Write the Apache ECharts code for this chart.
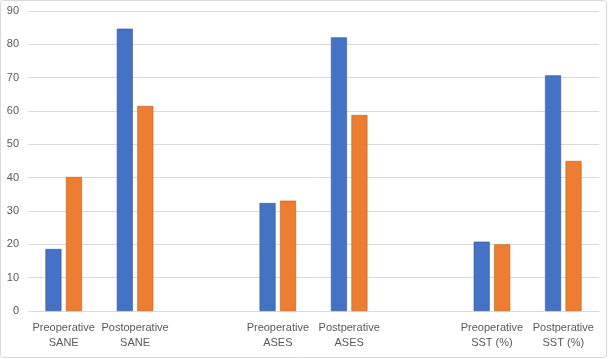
<!DOCTYPE html>
<html>
<head>
<meta charset="utf-8">
<script src="https://cdn.jsdelivr.net/npm/echarts@6/dist/echarts.min.js"></script>
<style>
html,body{margin:0;padding:0;background:#fff;}
#c{width:608px;height:359px;}
</style>
</head>
<body>
<div id="c"></div>
<script>
const categories = ['Preoperative\nSANE', 'Postoperative\nSANE', '', 'Preoperative\nASES', 'Postperative\nASES', '', 'Preoperative\nSST (%)', 'Postperative\nSST (%)'];
const seriesA = [18.6, 84.7, null, 32.4, 82.1, null, 20.8, 70.7];
const seriesB = [40.2, 61.5, null, 33.1, 58.8, null, 20.0, 45.0];
const yTicks = {min: 0, max: 90, interval: 10};

const chart = echarts.init(document.getElementById('c'), null, {renderer: 'canvas'});
const font = 'Liberation Sans, Arial, sans-serif';
chart.setOption({
  animation: false,
  backgroundColor: '#ffffff',
  grid: {left: 28, right: 9, top: 11, bottom: 48, containLabel: false},
  xAxis: {
    type: 'category',
    data: categories,
    axisLine: {lineStyle: {color: '#d9d9d9', width: 1}},
    axisTick: {show: false},
    axisLabel: {color: '#595959', fontFamily: font, fontSize: 11, lineHeight: 15, margin: 9, interval: 0}
  },
  yAxis: {
    type: 'value',
    min: yTicks.min, max: yTicks.max, interval: yTicks.interval,
    axisLine: {show: false},
    axisTick: {show: false},
    splitLine: {lineStyle: {color: '#d9d9d9', width: 1}},
    axisLabel: {color: '#595959', fontFamily: font, fontSize: 11, margin: 9}
  },
  series: [
    {type: 'bar', data: seriesA, barWidth: 16, barGap: '28%',
     itemStyle: {color: '#4472C4', borderColor: '#2f5597', borderWidth: 0.6}},
    {type: 'bar', data: seriesB, barWidth: 16,
     itemStyle: {color: '#ED7D31', borderColor: '#c55a11', borderWidth: 0.6}}
  ],
  graphic: [
    {type: 'rect', shape: {x: 0.5, y: 0.5, width: 606, height: 357, r: 3}, style: {fill: null, stroke: '#d9d9d9', lineWidth: 1}, silent: true}
  ]
});
</script>
</body>
</html>
